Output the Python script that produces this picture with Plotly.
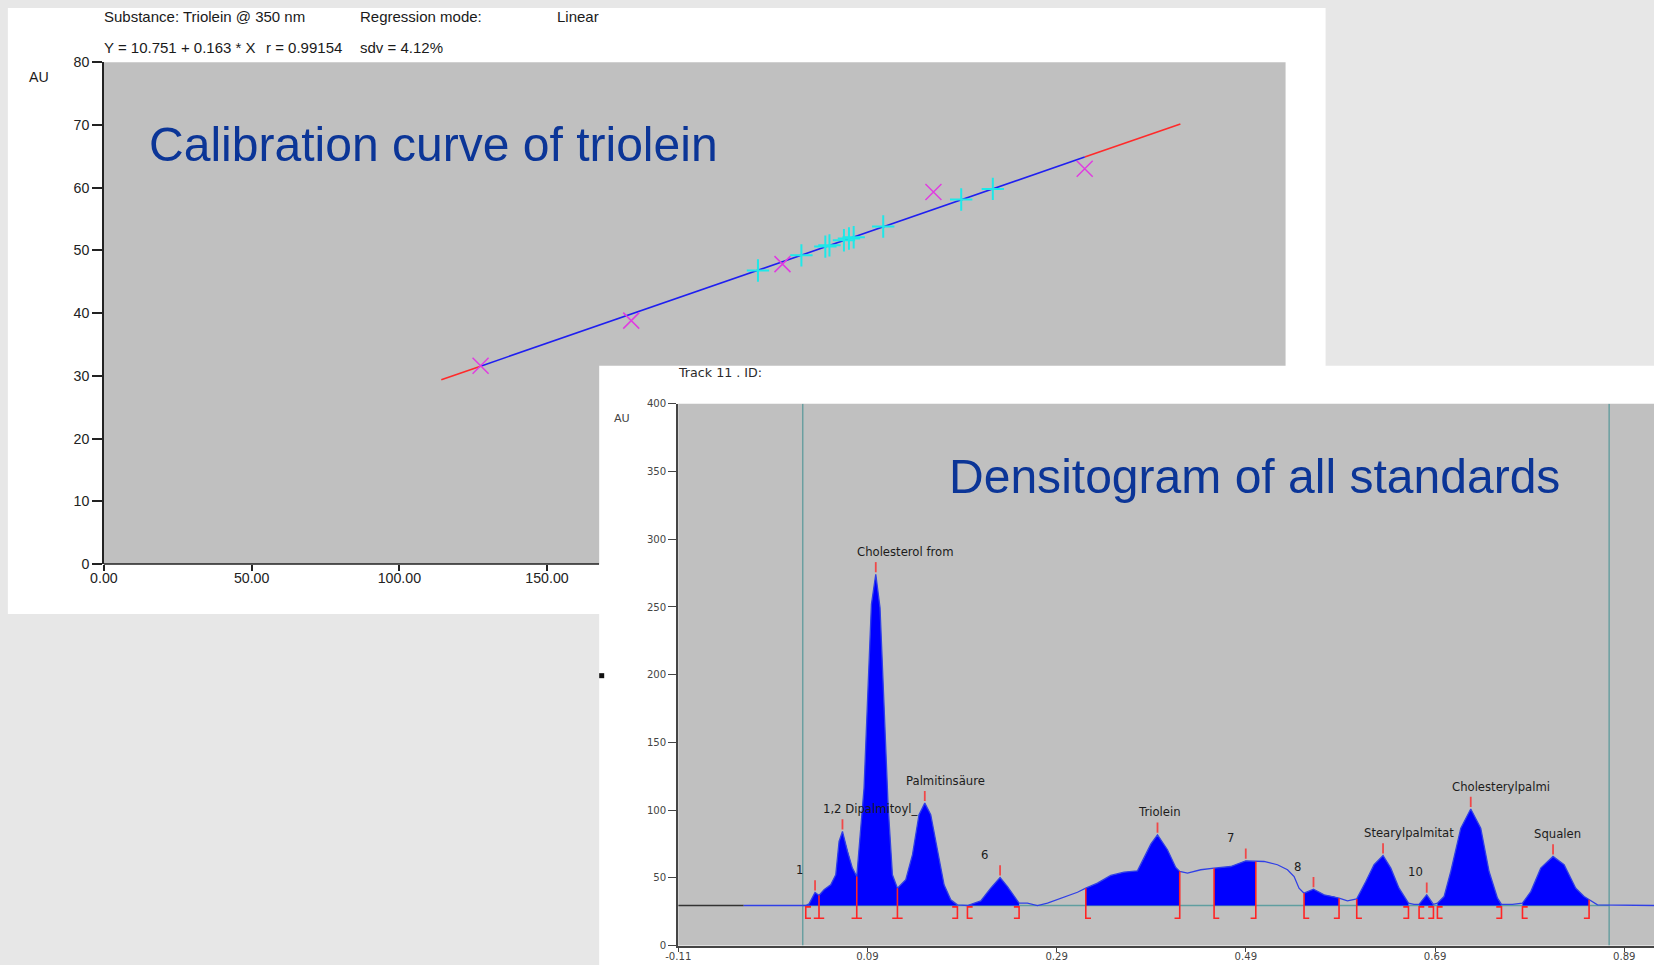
import numpy as np
import plotly.graph_objects as go

# Positions below are given in window pixels (1654 x 965) and converted to
# figure paper fractions; the page keeps its 8 px body margin and the final
# image is displayed slightly scaled, which the conversion accounts for.
W, H = 1654, 965
OFF = 8
SCALE_X, SHIFT_X = 0.991, 6.2
SCALE_Y, SHIFT_Y = 0.982, 0.06
FIG_W, FIG_H = 1656, 976

# ---------------- calibration (linear regression of triolein standards) ----------------
intercept = 10.751
slope = 0.163
r_value = 0.99154
sdv_pct = 4.12

std_amount = [127.5, 178.5, 229.7, 280.8, 332.0]
std_au = [31.6, 38.8, 47.8, 59.3, 63.0]

sample_amount = [221.4, 236.1, 244.2, 245.6, 250.5, 252.2, 253.8, 263.8, 290.2, 300.9]
sample_au = [46.8, 49.2, 50.6, 50.8, 51.6, 51.9, 52.1, 53.8, 58.1, 59.8]

fit_span = [114.2, 364.4]

cal_xticks = [0, 50, 100, 150]
cal_xticktext = ["0.00", "50.00", "100.00", "150.00"]
cal_yticks = [0, 10, 20, 30, 40, 50, 60, 70, 80]

# ---------------- densitogram, track 11 ----------------
rf = [-0.0408, 0.0216, 0.0248, 0.0283, 0.0346, 0.0388, 0.0441, 0.0512, 0.0565, 0.0600,
      0.0636, 0.0689, 0.0741, 0.0787, 0.0864, 0.0906, 0.0942, 0.0988, 0.1033, 0.1075,
      0.1118, 0.1164, 0.1217, 0.1305, 0.1376, 0.1445, 0.1506, 0.1569, 0.1640, 0.1710,
      0.1781, 0.1851, 0.1957, 0.2098, 0.2203, 0.2302, 0.2380, 0.2450, 0.2503, 0.2591,
      0.2697, 0.2803, 0.2978, 0.3120, 0.3208, 0.3331, 0.3472, 0.3612, 0.3754, 0.3824,
      0.3895, 0.3966, 0.4071, 0.4159, 0.4201, 0.4283, 0.4423, 0.4564, 0.4740, 0.4899,
      0.5005, 0.5092, 0.5234, 0.5340, 0.5410, 0.5462, 0.5515, 0.5615, 0.5727, 0.5832,
      0.5885, 0.5974, 0.6072, 0.6168, 0.6255, 0.6350, 0.6432, 0.6519, 0.6619, 0.6678,
      0.6731, 0.6812, 0.6883, 0.6925, 0.6995, 0.7066, 0.7172, 0.7277, 0.7383, 0.7471,
      0.7560, 0.7602, 0.7718, 0.7824, 0.7912, 0.8017, 0.8147, 0.8264, 0.8387, 0.8475,
      0.8528, 0.8617, 0.9223]
au = [29.6, 29.6, 29.6, 30.8, 39.2, 37.0, 41.2, 44.9, 52.3, 76.9,
      84.3, 69.5, 57.2, 51.0, 116.3, 190.2, 251.9, 274.1, 249.4, 178.0,
      104.0, 52.3, 42.4, 48.6, 67.1, 96.6, 105.2, 96.6, 69.5, 44.9,
      33.8, 30.1, 29.6, 33.0, 42.4, 50.3, 43.6, 36.2, 31.3, 31.3,
      29.6, 31.3, 35.5, 39.4, 42.4, 46.1, 51.8, 54.2, 55.2, 64.5,
      74.9, 81.8, 70.8, 57.7, 54.7, 53.5, 56.0, 57.2, 58.4, 62.6,
      62.1, 62.1, 59.7, 56.0, 51.0, 42.4, 38.7, 41.6, 37.5, 36.2,
      35.0, 33.0, 34.5, 47.3, 59.7, 66.5, 57.2, 42.4, 31.3, 30.5,
      30.5, 37.5, 30.5, 31.3, 36.2, 54.7, 86.7, 100.8, 86.7, 54.7,
      35.0, 30.5, 30.5, 31.3, 39.9, 57.2, 65.8, 59.7, 42.4, 36.2,
      33.8, 30.1, 29.6]

baseline_au = 29.6
track_bounds = [0.0216, 0.874]

peak_windows = [(0.0248, 0.0388), (0.0388, 0.0787), (0.0787, 0.1217), (0.1217, 0.1851),
                (0.1957, 0.2503), (0.3208, 0.4201), (0.4564, 0.5005), (0.5515, 0.5885),
                (0.6072, 0.6619), (0.6731, 0.6883), (0.6925, 0.7602), (0.7824, 0.8528)]
peak_names = ["1", "1,2 Dipalmitoyl_", "Cholesterol from", "Palmitinsäure", "6", "Triolein",
              "7", "8", "Stearylpalmitat", "10", "Cholesterylpalmi", "Squalen"]

dens_xticks = [-0.11, 0.09, 0.29, 0.49, 0.69, 0.89]
dens_yticks = [0, 50, 100, 150, 200, 250, 300, 350, 400]


def fig_x(x):
    return (x - SHIFT_X) / SCALE_X - OFF


def fig_y(y):
    return (y - SHIFT_Y) / SCALE_Y - OFF


def px(x):
    return fig_x(x) / FIG_W


def py(y):
    return 1 - fig_y(y) / FIG_H


def fs(size):
    return size / ((SCALE_X + SCALE_Y) / 2)


# densitogram x range: -0.11 at the axis (677.5 px), 946 px per Rf unit,
# running to the right edge of the figure
dens_x0_px, dens_px_per_unit = 677.5, 946.0
fig_right_px = SCALE_X * (FIG_W + OFF) + SHIFT_X
dens_xrange = [dens_xticks[0], dens_xticks[0] + (fig_right_px - dens_x0_px) / dens_px_per_unit]

fig = go.Figure()

# ---- calibration panel traces ----
std_span = [min(std_amount), max(std_amount)]
ext_x = [fit_span[0], std_span[0], None, std_span[1], fit_span[1]]
ext_y = [None if v is None else intercept + slope * v for v in ext_x]
fig.add_trace(go.Scatter(x=ext_x, y=ext_y, mode="lines", xaxis="x", yaxis="y",
                         line=dict(color="#ff2a2a", width=1.6), hoverinfo="skip"))
fig.add_trace(go.Scatter(x=std_span, y=[intercept + slope * v for v in std_span], mode="lines",
                         xaxis="x", yaxis="y", line=dict(color="#1f1ff0", width=1.6),
                         hoverinfo="skip"))
fig.add_trace(go.Scatter(x=sample_amount, y=sample_au, mode="markers", xaxis="x", yaxis="y",
                         marker=dict(symbol="cross-thin", size=16,
                                     line=dict(color="#1ee8e8", width=2))))
fig.add_trace(go.Scatter(x=std_amount, y=std_au, mode="markers", xaxis="x", yaxis="y",
                         marker=dict(symbol="x-thin", size=16,
                                     line=dict(color="#e03ce0", width=1.5))))

# ---- densitogram traces ----
rf_arr = np.array(rf)
au_arr = np.array(au)

fig.add_trace(go.Scatter(x=[dens_xrange[0], rf[0]], y=[baseline_au, baseline_au], mode="lines",
                         xaxis="x2", yaxis="y2", line=dict(color="#333333", width=1.5),
                         hoverinfo="skip"))
fig.add_trace(go.Scatter(x=track_bounds, y=[baseline_au, baseline_au], mode="lines",
                         xaxis="x2", yaxis="y2", line=dict(color="#5f9ea0", width=1.5),
                         hoverinfo="skip"))
for tb in track_bounds:
    fig.add_trace(go.Scatter(x=[tb, tb], y=[0, 400], mode="lines", xaxis="x2", yaxis="y2",
                             line=dict(color="#6a9fa0", width=1.5), hoverinfo="skip"))

peaks = []
for a, b in peak_windows:
    sel = (rf_arr >= a - 1e-9) & (rf_arr <= b + 1e-9)
    xs = rf_arr[sel]
    ys = au_arr[sel]
    fig.add_trace(go.Scatter(x=[xs[0]] + list(xs) + [xs[-1]],
                             y=[baseline_au] + list(ys) + [baseline_au],
                             mode="lines", fill="toself", fillcolor="#0000ff",
                             line=dict(width=0, color="#0000ff"),
                             xaxis="x2", yaxis="y2", hoverinfo="skip"))
    k = int(np.argmax(ys))
    peaks.append((xs[k], ys[k]))

fig.add_trace(go.Scatter(x=rf, y=au, mode="lines", xaxis="x2", yaxis="y2",
                         line=dict(color="#3040e6", width=1.3), hoverinfo="skip"))

br_top = baseline_au - 1.0
br_bot = baseline_au - 9.4
arm = 0.0055
mx, my = [], []


def seg(points):
    for p in points:
        mx.append(p[0])
        my.append(p[1])
    mx.append(None)
    my.append(None)


def curve_at(x):
    return float(au_arr[int(np.argmin(np.abs(rf_arr - x)))])


for i, (a, b) in enumerate(peak_windows):
    shared_start = i > 0 and abs(peak_windows[i - 1][1] - a) < 1e-9
    shared_end = i < len(peak_windows) - 1 and abs(peak_windows[i + 1][0] - b) < 1e-9
    if shared_start:
        seg([(a, curve_at(a)), (a, br_bot)])
        seg([(a - arm, br_bot), (a + arm, br_bot)])
    else:
        top = max(curve_at(a), br_top)
        if top - baseline_au > 3:
            seg([(a, top), (a, br_bot), (a + arm, br_bot)])
        else:
            seg([(a + arm, br_top), (a, br_top), (a, br_bot), (a + arm, br_bot)])
    if not shared_end:
        top = max(curve_at(b), br_top)
        if top - baseline_au > 3:
            seg([(b, top), (b, br_bot), (b - arm, br_bot)])
        else:
            seg([(b - arm, br_top), (b, br_top), (b, br_bot), (b - arm, br_bot)])

fig.add_trace(go.Scatter(x=mx, y=my, mode="lines", xaxis="x2", yaxis="y2",
                         line=dict(color="#ff2424", width=1.6), hoverinfo="skip"))

tx, ty = [], []
for xp, yp in peaks:
    tx += [xp, xp, None]
    ty += [yp + 1.5, yp + 9.0, None]
fig.add_trace(go.Scatter(x=tx, y=ty, mode="lines", xaxis="x2", yaxis="y2",
                         line=dict(color="#f04848", width=1.8), hoverinfo="skip"))

# ---------------- text ----------------
annotations = []


def note(text, x, y, size, color="#1a1a1a", family="Liberation Sans", xanchor="left",
         yanchor="middle"):
    annotations.append(dict(text=text, x=px(x), y=py(y), xref="paper", yref="paper",
                            xanchor=xanchor, yanchor=yanchor, showarrow=False,
                            font=dict(size=fs(size), color=color, family=family)))


note("Substance: Triolein @ 350 nm", 102, 16.5, 14.8)
note("Regression mode:", 358, 16.5, 14.8)
note("Linear", 555, 16.5, 14.8)
note(f"Y = {intercept} + {slope} * X", 102, 47.5, 14.8)
note(f"r = {r_value}", 264, 47.5, 14.8)
note(f"sdv = {sdv_pct}%", 358, 47.5, 14.8)
note("AU", 27, 77, 14)
note("Calibration curve of triolein", 147, 144.5, 47.4, color="#0b3597")

note("Track 11 . ID:", 676, 371.5, 12.5, color="#2a2a2a", family="DejaVu Sans")
note("AU", 612, 418, 11, color="#444444", family="DejaVu Sans")
note("Densitogram of all standards", 947, 476, 47.4, color="#0b3597")

for (xp, yp), name in zip(peaks, peak_names):
    annotations.append(dict(text=name, x=xp, y=yp, xref="x2", yref="y2", xanchor="left",
                            yanchor="middle", xshift=-21 / SCALE_X, yshift=22 / SCALE_Y,
                            showarrow=False,
                            font=dict(size=fs(11.5), color="#1c1c1c", family="DejaVu Sans")))

# ---------------- panels (report windows) ----------------
shapes = [
    dict(type="rect", xref="paper", yref="paper", x0=px(8), x1=px(1325), y0=py(613), y1=py(8),
         fillcolor="#ffffff", line=dict(width=0), layer="below"),
    dict(type="rect", xref="paper", yref="paper", x0=px(104), x1=px(1285), y0=py(563), y1=py(62),
         fillcolor="#c0c0c0", line=dict(width=0), layer="below"),
    dict(type="line", xref="paper", yref="paper", x0=px(104), x1=px(599), y0=py(563), y1=py(563),
         line=dict(color="#222222", width=1.5), layer="below"),
    dict(type="rect", xref="paper", yref="paper", x0=px(599), x1=1, y0=0, y1=py(365),
         fillcolor="#ffffff", line=dict(width=0), layer="below"),
    dict(type="rect", xref="paper", yref="paper", x0=px(678), x1=1, y0=py(944), y1=py(403),
         fillcolor="#c0c0c0", line=dict(width=0), layer="below"),
    dict(type="rect", xref="paper", yref="paper", x0=px(599), x1=px(604), y0=py(677), y1=py(672),
         fillcolor="#111111", line=dict(width=0), layer="below"),
]

fig.update_layout(
    width=FIG_W, height=FIG_H,
    margin=dict(l=0, r=0, t=0, b=0),
    paper_bgcolor="#e7e7e7",
    plot_bgcolor="rgba(0,0,0,0)",
    showlegend=False,
    shapes=shapes,
    annotations=annotations,
    xaxis=dict(domain=[px(104), px(1285)], range=[0, 400], anchor="y", showgrid=False,
               zeroline=False, showline=False, ticks="outside", ticklen=6, tickwidth=1.5,
               tickcolor="#222222", tickvals=cal_xticks, ticktext=cal_xticktext,
               ticklabelstandoff=-5,
               tickfont=dict(family="Liberation Sans", size=fs(14), color="#222222")),
    yaxis=dict(domain=[py(563), py(62)], range=[0, 80], anchor="x", showgrid=False,
               zeroline=False, showline=True, linecolor="#222222", linewidth=1.5,
               ticks="outside", ticklen=10, tickwidth=1.5, tickcolor="#222222",
               tickvals=cal_yticks,
               tickfont=dict(family="Liberation Sans", size=fs(14), color="#222222")),
    xaxis2=dict(domain=[px(678), 1.0], range=dens_xrange, anchor="y2",
                showgrid=False, zeroline=False, showline=True, linecolor="#444444",
                linewidth=1.5, ticks="outside", ticklen=5, tickwidth=1.2, tickcolor="#444444",
                tickvals=dens_xticks, ticktext=[f"{v:.2f}" for v in dens_xticks],
                ticklabelstandoff=-5,
                tickfont=dict(family="DejaVu Sans", size=fs(10), color="#444444")),
    yaxis2=dict(domain=[py(944), py(403)], range=[0, 400], anchor="x2", showgrid=False,
                zeroline=False, showline=True, linecolor="#444444", linewidth=2,
                ticks="outside", ticklen=8, tickwidth=1.2, tickcolor="#444444",
                tickvals=dens_yticks,
                tickfont=dict(family="DejaVu Sans", size=fs(10), color="#444444")),
)

fig.write_html("out.html", post_script="document.body.style.background='#e7e7e7';")
